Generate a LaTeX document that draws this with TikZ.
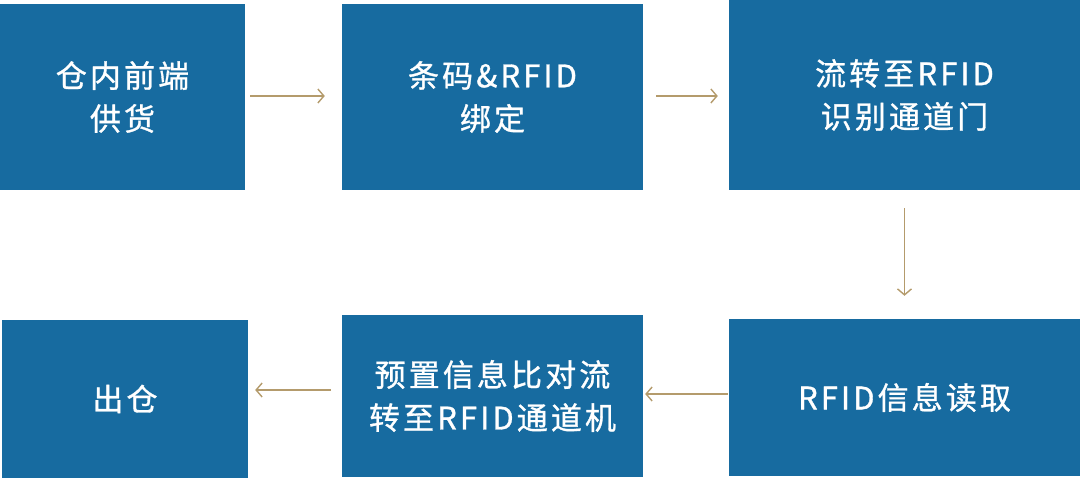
\documentclass[tikz,border=0pt]{standalone}
\usepackage{fontspec}
\setmainfont{Noto Sans CJK SC}
\newfontfamily\cjk[LetterSpace=10,FakeBold=1]{Noto Sans CJK SC}
\usetikzlibrary{arrows.meta}
\definecolor{boxblue}{HTML}{176BA0}
\definecolor{arrowtan}{HTML}{B49B6C}
\begin{document}
\begin{tikzpicture}[x=1pt,y=-1pt,
  stepbox/.style={fill=boxblue,draw=none,text=white,align=center,inner sep=0pt,
    font=\cjk\fontsize{31}{43}\selectfont},
  flow/.style={draw=arrowtan,line width=1.4pt,-{Straight Barb[length=6pt,width=14pt,line width=1.4pt]}}]
\useasboundingbox (0,0) rectangle (1080,478);
\node[stepbox,minimum width=245pt,minimum height=186pt] (b1) at (122.5,97) {仓内前端\\供货};
\node[stepbox,minimum width=301pt,minimum height=186pt] (b2) at (492.5,97) {条码\&RFID\\绑定};
\node[stepbox,minimum width=351pt,minimum height=190pt] (b3) at (904.5,95) {流转至RFID\\识别通道门};
\node[stepbox,minimum width=351pt,minimum height=157pt] (b4) at (904.5,397.5) {RFID信息读取};
\node[stepbox,minimum width=301pt,minimum height=162pt] (b5) at (492.5,396) {预置信息比对流\\转至RFID通道机};
\node[stepbox,minimum width=246pt,minimum height=158pt] (b6) at (125,399) {出仓};
\coordinate (r1) at (0,96);
\coordinate (r2) at (0,394);
\coordinate (r3) at (0,390);
\draw[flow,shorten <=5pt,shorten >=17pt] (b1.east |- r1) -- (b2.west |- r1);
\draw[flow,shorten <=13pt,shorten >=11pt] (b2.east |- r1) -- (b3.west |- r1);
\draw[flow,shorten <=18pt,shorten >=23pt] (b3.south) -- (b4.north);
\draw[flow,shorten <=1pt,shorten >=2pt] (b4.west |- r2) -- (b5.east |- r2);
\draw[flow,shorten <=11pt,shorten >=7pt] (b5.west |- r3) -- (b6.east |- r3);
\end{tikzpicture}
\end{document}
